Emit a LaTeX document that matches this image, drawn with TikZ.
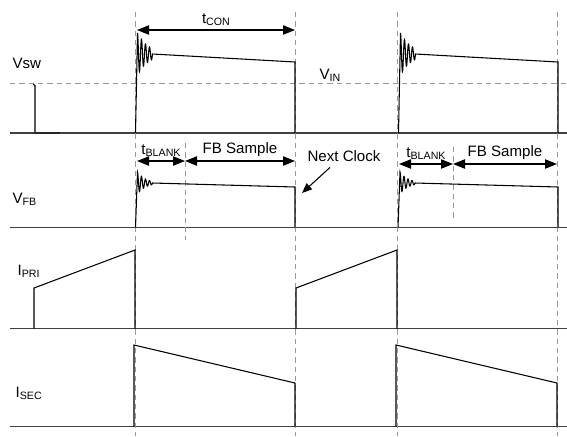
\documentclass[tikz,border=0pt]{standalone}
\usepackage{fontspec}
\setmainfont{Liberation Sans}
\usetikzlibrary{arrows.meta}
\newcommand{\subtxt}[1]{\raisebox{-1.5pt}{\fontsize{8}{8}\selectfont#1}}

\begin{document}
\begin{tikzpicture}[x=0.75pt,y=-0.75pt,>={Triangle[length=9pt,width=7pt]},
  every node/.style={font=\fontsize{11.3}{13}\selectfont,inner sep=1pt},
  wave/.style={line width=0.8pt,line join=miter},
  axis/.style={line width=1pt,black!75},
  guide/.style={black!40,line width=0.7pt,dash pattern=on 4pt off 3pt},
  span/.style={<->,line width=0.8pt},
  pointer/.style={-{Triangle[length=7.5pt,width=6pt]},line width=0.8pt},
  lbl/.style={anchor=base west}]
  \useasboundingbox (0,0) rectangle (567,436);
  \foreach \y in {133,227.5,328.5,426.5}
    \draw[axis] (10,\y) -- (567,\y);
  \draw[guide] (10,83) -- (567,83);
  \foreach \t in {135,295,397.5,557.5}
    \draw[guide] (\t,12) -- (\t,436);
  \draw[guide] (185,143) -- (185,240);
  \draw[guide] (453,147) -- (453,218);

  \draw[wave] (35,133) -- (35,85.5) -- (33,84);
  \draw[line width=1.3pt,black!85] (35,133) -- (60,133);
  \foreach \s/\e in {135.5/295,398.5/558}
    \draw[wave] (\s,133) -- plot[domain=0:15,samples=100]
      ({\s+2+\x},{54-21*exp(-\x/11)*cos(\x*90)}) -- (\e,62) -- (\e,133);
  \foreach \s/\e in {135.5/295,398/558}
    \draw[wave] (\s,227.5) -- plot[domain=0:15,samples=100]
      ({\s+2+\x},{183-11*exp(-\x/8)*cos(\x*90)}) -- (\e,187) -- (\e,227.5);
  \draw[wave] (34,328.5) -- (34,288) -- (135,250) -- (135,328.5);
  \draw[wave] (296,328.5) -- (296,288) -- (397,250) -- (397,328.5);
  \draw[wave] (134,426.5) -- (134,345) -- (295,383) -- (295,426.5);
  \draw[wave] (396,426.5) -- (396,345) -- (557,383) -- (557,426.5);

  \coordinate (con1) at (137,30);
  \coordinate (con2) at (295,30);
  \coordinate (bl1) at (137,161);
  \coordinate (fb1) at (185,161);
  \coordinate (end1) at (295,161);
  \coordinate (bl2) at (399,164);
  \coordinate (fb2) at (453,164);
  \coordinate (end2) at (557,164);
  \path[span]
    (con1) edge node[above=2pt]{t\subtxt{CON}} (con2)
    (bl1) edge node[above=2pt]{t\subtxt{BLANK}} (fb1)
    (fb1) edge node[above=2pt]{FB Sample} (end1)
    (bl2) edge node[above=2pt]{t\subtxt{BLANK}} (fb2)
    (fb2) edge node[above=2pt]{FB Sample} (end2);

  \node[lbl] (vsw) at (11,68) {Vsw};
  \node[lbl] (vfb) at (11,203) {V\subtxt{FB}};
  \node[lbl] (ipri) at (16,275) {I\subtxt{PRI}};
  \node[lbl] (isec) at (14,397) {I\subtxt{SEC}};
  \node[lbl] (vin) at (318,79) {V\subtxt{IN}};
  \node[lbl] (next) at (306,161) {Next Clock};
  \coordinate (clk) at (302,193);
  \draw[pointer] ([xshift=-10.5pt,yshift=-3.5pt]next.south) -- (clk);
\end{tikzpicture}
\end{document}
